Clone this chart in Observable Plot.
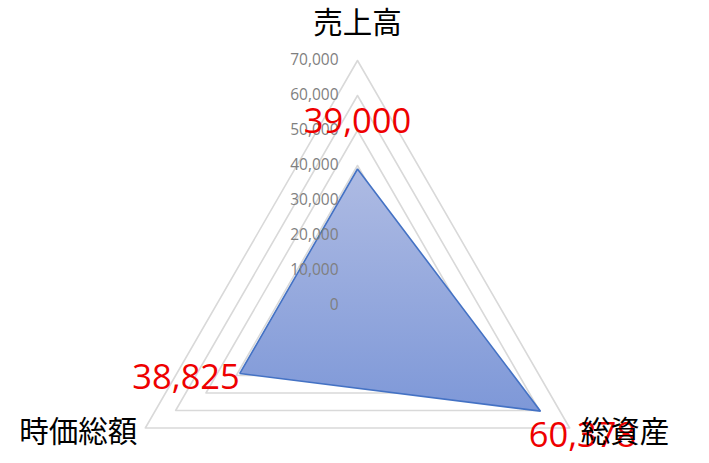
<!DOCTYPE html>
<html><head><meta charset="utf-8">
<script src="https://cdn.jsdelivr.net/npm/d3@7"></script>
<script src="https://cdn.jsdelivr.net/npm/@observablehq/plot@0.6"></script>
<style>body{margin:0;background:#fff}#chart svg{display:block}</style>
</head><body><div id="chart"></div>
<script>
const categories = ["売上高", "総資産", "時価総額"];
const values = [39000, 60378, 38825];
const valueLabels = ["39,000", "60,378", "38,825"];
const tickValues = [0, 10000, 20000, 30000, 40000, 50000, 60000, 70000];
const tickLabels = ["0", "10,000", "20,000", "30,000", "40,000", "50,000", "60,000", "70,000"];
const maxValue = 70000;

const n = categories.length;
const ang = i => 2 * Math.PI * i / n;
const px = (r, i) => r * Math.sin(ang(i));
const py = (r, i) => r * Math.cos(ang(i));

const gridData = tickValues.filter(v => v > 0).flatMap(v =>
  categories.map((c, i) => ({level: v, x: px(v, i), y: py(v, i)})));
const dataPts = categories.map((c, i) => ({cat: c, x: px(values[i], i), y: py(values[i], i), label: valueLabels[i]}));
const catPts = categories.map((c, i) => ({cat: c, x: px(maxValue, i), y: py(maxValue, i)}));
const tickPts = tickValues.map((v, i) => ({x: 0, y: v, label: tickLabels[i]}));

const defs = () => {
  const d = d3.create("svg:defs");
  const g = d.append("linearGradient").attr("id", "areaGrad")
    .attr("x1", 0).attr("y1", 0).attr("x2", 0).attr("y2", 1);
  g.append("stop").attr("offset", "0%").attr("stop-color", "#aebbe3");
  g.append("stop").attr("offset", "100%").attr("stop-color", "#7e98d8");
  return d.node();
};

const labelOffsets = [{dx: 0, dy: -47, anchor: "middle"}, {dx: 42, dy: 25, anchor: "middle"}, {dx: 0, dy: 5, anchor: "end"}];
const catOffsets = [{dx: 0, dy: -37, anchor: "middle"}, {dx: 11, dy: 5, anchor: "start"}, {dx: -8, dy: 5, anchor: "end"}];

const chart = Plot.plot({
  width: 709, height: 463,
  marginTop: 0, marginRight: 0, marginBottom: 0, marginLeft: 0,
  x: {domain: [-102000, 100571], axis: null},
  y: {domain: [-45143, 87143], axis: null},
  style: {background: "#fff", overflow: "visible"},
  marks: [
    defs,
    Plot.line(gridData, {x: "x", y: "y", z: "level", curve: "linear-closed", stroke: "#d9d9d9", strokeWidth: 1.6}),
    Plot.line(dataPts, {x: "x", y: "y", curve: "linear-closed", fill: "url(#areaGrad)", stroke: "#4472c4", strokeWidth: 1.6, strokeLinejoin: "miter"}),
    Plot.text(tickPts, {x: "x", y: "y", text: "label", dx: -19, textAnchor: "end", fill: "#7f7f7f", fontSize: 15.5, fontFamily: "Open Sans"}),
    ...dataPts.map((d, i) => Plot.text([d], {x: "x", y: "y", text: "label", dx: labelOffsets[i].dx, dy: labelOffsets[i].dy, textAnchor: labelOffsets[i].anchor, fill: "#ee0000", fontSize: 34.5, fontFamily: "Open Sans"})),
    ...catPts.map((d, i) => Plot.text([d], {x: "x", y: "y", text: "cat", dx: catOffsets[i].dx, dy: catOffsets[i].dy, textAnchor: catOffsets[i].anchor, fill: "#000", fontSize: 29.5, fontFamily: "Noto Sans CJK JP"}))
  ]
});
document.getElementById("chart").appendChild(chart);
</script>
</body></html>
